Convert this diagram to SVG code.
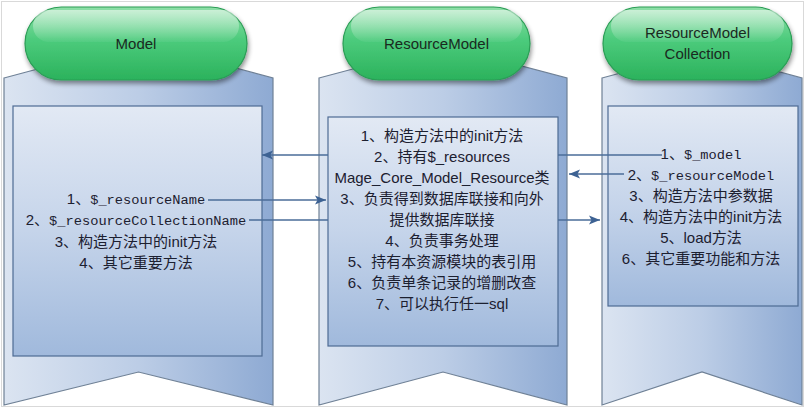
<svg xmlns="http://www.w3.org/2000/svg" width="806" height="411" viewBox="0 0 806 411">
<defs>
<style>
.panel{stroke:#6f8196;stroke-width:1.2;}
.inner{stroke:#4e6b93;stroke-width:1.2;}
.pill{stroke:#2a9d55;stroke-width:1.2;fill:url(#gPill);}
.ptxt{font-family:"Liberation Sans",Arial,sans-serif;font-size:15px;fill:#1a2a1f;text-anchor:middle;}
.btxt{font-family:"Liberation Sans","Noto Sans CJK SC",sans-serif;font-size:15px;fill:#1c2030;text-anchor:middle;}
.mono{font-family:"Liberation Mono","Courier New",monospace;font-size:13.7px;}
.conn{stroke:#4b6d99;stroke-width:1.3;fill:none;}
</style>
<linearGradient id="gPanel" x1="0" y1="0" x2="1" y2="0">
<stop offset="0" stop-color="#dbe4f1"/>
<stop offset="0.5" stop-color="#bccde6"/>
<stop offset="1" stop-color="#8eaad3"/>
</linearGradient>
<linearGradient id="gInner" x1="0" y1="0" x2="0" y2="1">
<stop offset="0" stop-color="#e2e9f4"/>
<stop offset="0.5" stop-color="#c5d4ea"/>
<stop offset="1" stop-color="#a0b9dc"/>
</linearGradient>
<linearGradient id="gPill" x1="0" y1="0" x2="0" y2="1">
<stop offset="0" stop-color="#8fdfa8"/>
<stop offset="0.45" stop-color="#4ccb7c"/>
<stop offset="1" stop-color="#2bb25c"/>
</linearGradient>
<linearGradient id="gGloss" x1="0" y1="0" x2="0" y2="1">
<stop offset="0" stop-color="#ffffff" stop-opacity="0.55"/>
<stop offset="1" stop-color="#ffffff" stop-opacity="0.05"/>
</linearGradient>
<filter id="shadow" x="-10%" y="-20%" width="120%" height="150%">
<feGaussianBlur in="SourceAlpha" stdDeviation="2.5"/>
<feOffset dx="1" dy="3" result="b"/>
<feComponentTransfer><feFuncA type="linear" slope="0.45"/></feComponentTransfer>
<feMerge><feMergeNode/><feMergeNode in="SourceGraphic"/></feMerge>
</filter>
<marker id="arr" markerWidth="12" markerHeight="10" refX="11" refY="5" orient="auto" markerUnits="userSpaceOnUse">
<path d="M0,0.5 L11,5 L0,9.5 L2.5,5 Z" fill="#3d6293"/>
</marker>
</defs>
<rect x="0" y="0" width="806" height="411" fill="#ffffff"/>
<rect x="1.5" y="1.5" width="802" height="405" fill="none" stroke="#d9d9d9" stroke-width="1"/>

<g id="panel-model">
<path class="panel" fill="url(#gPanel)" d="M4,78 L138.5,42 L273,78 L273,405 L138.5,372 L4,405 Z"/>
<rect class="inner" fill="url(#gInner)" x="13" y="106" width="249" height="250"/>
<text class="btxt"><tspan x="136" y="204">1、<tspan class="mono">$_resourceName</tspan></tspan></text>
<text class="btxt"><tspan x="136" y="225">2、<tspan class="mono">$_resourceCollectionName</tspan></tspan></text>
<text class="btxt" x="136" y="247">3、构造方法中的init方法</text>
<text class="btxt" x="136" y="268">4、其它重要方法</text>
</g>

<g id="panel-resourcemodel">
<path class="panel" fill="url(#gPanel)" d="M319,78 L443,45 L567,78 L567,405 L443,372 L319,405 Z"/>
<rect class="inner" fill="url(#gInner)" x="328" y="117" width="230" height="229"/>
<text class="btxt" x="442" y="141">1、构造方法中的init方法</text>
<text class="btxt" x="442" y="162">2、持有$_resources</text>
<text class="btxt" x="442" y="183">Mage_Core_Model_Resource类</text>
<text class="btxt" x="442" y="204">3、负责得到数据库联接和向外</text>
<text class="btxt" x="442" y="225">提供数据库联接</text>
<text class="btxt" x="442" y="246">4、负责事务处理</text>
<text class="btxt" x="442" y="267">5、持有本资源模块的表引用</text>
<text class="btxt" x="442" y="288">6、负责单条记录的增删改查</text>
<text class="btxt" x="442" y="309">7、可以执行任一sql</text>
</g>

<g id="panel-collection">
<path class="panel" fill="url(#gPanel)" d="M602,78 L702,51 L802,78 L802,405 L702,372 L602,405 Z"/>
<rect class="inner" fill="url(#gInner)" x="608" y="106" width="190" height="200"/>
<text class="btxt"><tspan x="701" y="159">1、<tspan class="mono">$_model</tspan></tspan></text>
<text class="btxt"><tspan x="701" y="180">2、<tspan class="mono">$_resourceModel</tspan></tspan></text>
<text class="btxt" x="701" y="201">3、构造方法中参数据</text>
<text class="btxt" x="701" y="222">4、构造方法中的init方法</text>
<text class="btxt" x="701" y="243">5、load方法</text>
<text class="btxt" x="701" y="264">6、其它重要功能和方法</text>
</g>

<g id="pill-model">
<rect class="pill" filter="url(#shadow)" x="25" y="7" width="222" height="73" rx="36.5"/>
<rect x="33" y="10" width="206" height="32" rx="16" fill="url(#gGloss)"/>
<text class="ptxt" x="136" y="49">Model</text>
</g>
<g id="pill-resourcemodel">
<rect class="pill" filter="url(#shadow)" x="343" y="7" width="187" height="73" rx="36.5"/>
<rect x="351" y="10" width="171" height="32" rx="16" fill="url(#gGloss)"/>
<text class="ptxt" x="436.5" y="49">ResourceModel</text>
</g>
<g id="pill-collection">
<rect class="pill" filter="url(#shadow)" x="603" y="7" width="189" height="73" rx="36.5"/>
<rect x="611" y="10" width="173" height="32" rx="16" fill="url(#gGloss)"/>
<text class="ptxt" x="697.5" y="38">ResourceModel</text>
<text class="ptxt" x="697.5" y="59">Collection</text>
</g>

<g id="connectors">
<path class="conn" marker-end="url(#arr)" d="M662,155 H558 M328,155 H262"/>
<path class="conn" marker-end="url(#arr)" d="M208,200 H326"/>
<path class="conn" marker-end="url(#arr)" d="M249,220 H328 M558,220 H600"/>
<path class="conn" marker-end="url(#arr)" d="M624,174 H569"/>
</g>
</svg>
